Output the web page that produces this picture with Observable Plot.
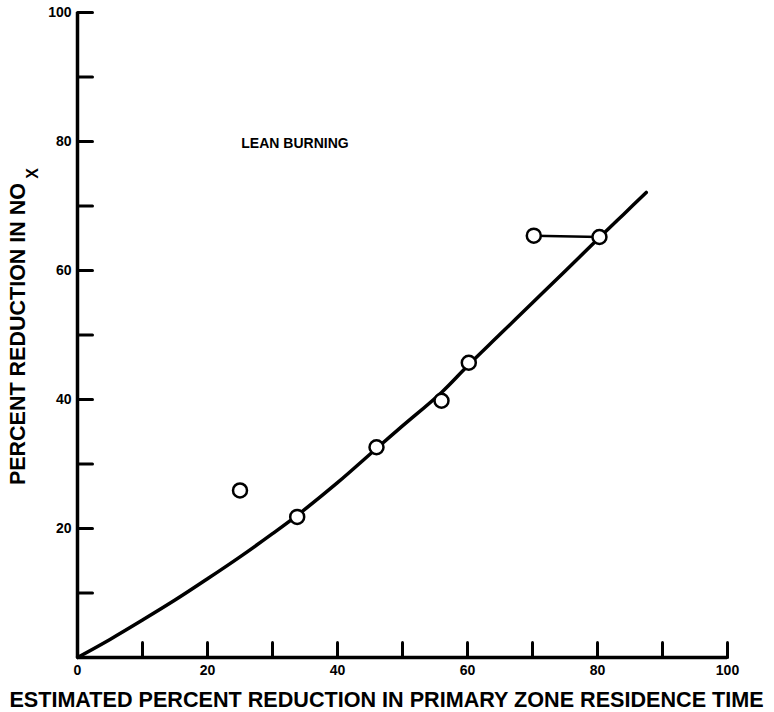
<!DOCTYPE html>
<html>
<head>
<meta charset="utf-8">
<script src="https://cdn.jsdelivr.net/npm/d3@7"></script>
<script src="https://cdn.jsdelivr.net/npm/@observablehq/plot@0.6"></script>
<style>
  html, body { margin: 0; padding: 0; background: #fff; }
  #chart svg { display: block; font-family: "Liberation Sans", Arial, Helvetica, sans-serif; }
</style>
</head>
<body>
<div id="chart"></div>
<script>
// Tick positions and labels
const xTicks = [10, 20, 30, 40, 50, 60, 70, 80, 90, 100];
const yTicks = [10, 20, 30, 40, 50, 60, 70, 80, 90, 100];
const xTickLabels = [0, 20, 40, 60, 80, 100];
const yTickLabels = [20, 40, 60, 80, 100];

// Observed data points (open circles)
const obsX = [25, 33.8, 46, 56, 60.2, 70.2, 80.3];
const obsY = [25.9, 21.8, 32.6, 39.8, 45.7, 65.4, 65.2];

// Connector between the two upper points
const linkX = [70.2, 80.3];
const linkY = [65.4, 65.2];

// Fitted curve
const curveX = [0, 5, 10, 15, 20, 25, 30, 34, 40, 46, 50, 56, 60, 65, 70, 75, 80.3, 84, 87.5];
const curveY = [0, 2.8, 5.8, 8.9, 12.2, 15.6, 19.2, 22.2, 27.1, 32.4, 35.9, 41.1, 45.2, 50.1, 55.0, 59.9, 65.1, 68.7, 72.1];

// Texts
const xTitle = "ESTIMATED PERCENT REDUCTION IN PRIMARY ZONE RESIDENCE TIME";
const yTitle = "PERCENT REDUCTION IN NO";
const ySub = "X";
const annText = ["LEAN BURNING"];
const annX = [25.2];
const annY = [79.7];

const obs = obsX.map((x, i) => ({x, y: obsY[i]}));
const link = linkX.map((x, i) => ({x, y: linkY[i]}));
const curve = curveX.map((x, i) => ({x, y: curveY[i]}));
const ann = annText.map((t, i) => ({t, x: annX[i], y: annY[i]}));

const tickShape = {
  draw(context, l) { context.moveTo(0, 0); context.lineTo(0, -l); }
};

const chart = Plot.plot({
  width: 774,
  height: 712,
  marginLeft: 77,
  marginRight: 47,
  marginTop: 12,
  marginBottom: 55,
  style: {fontFamily: "'Liberation Sans', Arial, sans-serif", color: "#000", background: "#fff"},
  x: {domain: [0, 100]},
  y: {domain: [0, 100]},
  marks: [
    Plot.axisX({ticks: xTickLabels, tickSize: 0, tickPadding: 8, fontSize: 14, fontWeight: "bold", label: null}),
    Plot.axisY({ticks: yTickLabels, tickSize: 0, tickPadding: 6, fontSize: 14, fontWeight: "bold", label: null}),
    Plot.vector(xTicks, {x: d => d, y: 0, length: 15, anchor: "start", rotate: 0, shape: tickShape, stroke: "#000", strokeWidth: 3}),
    Plot.vector(yTicks, {x: 0, y: d => d, length: 15, anchor: "start", rotate: 90, shape: tickShape, stroke: "#000", strokeWidth: 3}),
    Plot.ruleY([0], {stroke: "#000", strokeWidth: 3.5}),
    Plot.ruleX([0], {stroke: "#000", strokeWidth: 3.5}),
    Plot.line(curve, {x: "x", y: "y", curve: "catmull-rom", stroke: "#000", strokeWidth: 3.5}),
    Plot.line(link, {x: "x", y: "y", stroke: "#000", strokeWidth: 2.5}),
    Plot.dot(obs, {x: "x", y: "y", r: 7, fill: "#fff", stroke: "#000", strokeWidth: 2.5}),
    Plot.text(ann, {x: "x", y: "y", text: "t", textAnchor: "start", fontSize: 14, fontWeight: "bold", fill: "#000"}),
    Plot.text([xTitle], {frameAnchor: "bottom", textAnchor: "middle", lineAnchor: "middle", dx: -16, dy: 43, fontSize: 21.6, fontWeight: "bold", fill: "#000"}),
    Plot.text([yTitle], {frameAnchor: "left", textAnchor: "middle", lineAnchor: "middle", rotate: -90, dx: -59, dy: -1, fontSize: 21.5, fontWeight: "bold", fill: "#000"}),
    Plot.text([ySub], {frameAnchor: "top-left", textAnchor: "middle", lineAnchor: "middle", rotate: -90, dx: -45, dy: 161, fontSize: 16, fontWeight: "bold", fill: "#000"})
  ]
});

document.getElementById("chart").appendChild(chart);
</script>
</body>
</html>
